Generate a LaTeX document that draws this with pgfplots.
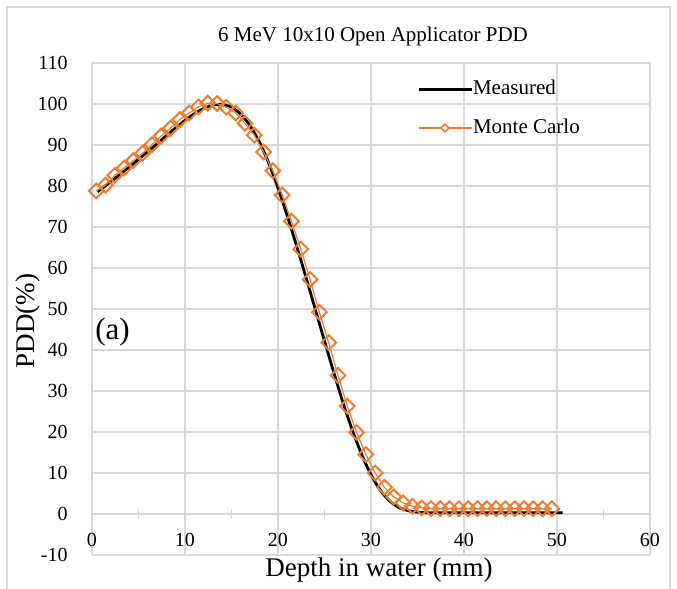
\documentclass[border=0pt]{standalone}
\usepackage{fontspec}
\setmainfont{Liberation Serif}
\usepackage{pgfplots}
\usepackage{pgfplotstable}
\pgfplotsset{compat=1.18}
\definecolor{mcorange}{HTML}{ED7D31}
\definecolor{gridgray}{HTML}{D9D9D9}

\pgfplotstableread{
x y
0.6 78.6
1 79.3
2 81.0
3 82.8
4 84.6
5 86.5
6 88.4
7 90.3
8 92.3
9 94.2
10 96.0
11 97.6
12 98.9
13 99.7
14 99.9
15 99.2
16 97.5
17 94.7
18 90.7
19 85.6
20 79.5
21 72.7
22 65.4
23 57.8
24 50.0
25 42.2
26 34.5
27 27.1
28 20.4
29 14.5
30 9.6
31 5.8
32 3.2
33 1.6
34 0.8
35 0.45
36 0.3
38 0.3
40 0.3
42 0.3
44 0.3
46 0.3
48 0.3
50 0.3
50.6 0.3
}\measured

\pgfplotstableread{
x y
0.45 78.8
1.45 80.2
2.45 82.6
3.45 84.4
4.45 86.2
5.45 88.0
6.45 90.1
7.45 92.2
8.45 94.1
9.45 96.2
10.45 97.8
11.45 99.3
12.45 100.2
13.45 100.1
14.45 99.2
15.45 97.8
16.45 95.3
17.45 92.4
18.45 88.3
19.45 83.7
20.45 77.8
21.45 71.4
22.45 64.6
23.45 57.2
24.45 49.2
25.45 41.8
26.45 33.8
27.45 26.3
28.45 19.9
29.45 14.5
30.45 10.0
31.45 6.5
32.45 4.2
33.45 2.7
34.45 1.9
35.45 1.5
36.45 1.3
37.45 1.3
38.45 1.3
39.45 1.3
40.45 1.3
41.45 1.3
42.45 1.3
43.45 1.3
44.45 1.3
45.45 1.3
46.45 1.3
47.45 1.3
48.45 1.3
49.45 1.3
}\montecarlo

\begin{document}
\begin{tikzpicture}[x=1pt,y=1pt]
\useasboundingbox (-46,-17) rectangle (292.5,277.5);
\draw[gridgray, line width=0.75pt] (-42.5,-40) rectangle (289,274);
\begin{axis}[
  at={(0,0)}, anchor=south west,
  scale only axis, width=279pt, height=246pt,
  xmin=0, xmax=60, ymin=-10, ymax=110,
  axis x line=middle, axis y line=left,
  x axis line style={-}, y axis line style={-},
  axis line style={gridgray, line width=0.75pt},
  hide obscured x ticks=false, hide obscured y ticks=false,
  xtick={0,10,...,60}, ytick={-10,0,...,110},
  minor xtick={5,15,...,55},
  major tick length=0pt, minor tick length=5pt, tick align=center,
  minor tick style={gridgray, line width=0.75pt},
  xmajorgrids, ymajorgrids,
  grid style={gridgray, line width=0.75pt},
  /pgf/number format/assume math mode=true,
  ticklabel style={font=\fontsize{10}{12}\selectfont, text=black},
  xticklabel style={yshift=-6.2pt},
  yticklabel style={xshift=-8.7pt},
  legend style={draw=none, fill=none, at={(axis cs:34.95,98.9)}, anchor=west,
    inner sep=0pt, outer sep=0pt, row sep=9.5pt,
    font=\fontsize{10.5}{12}\selectfont,
    nodes={inner sep=0pt, text height=7.5pt, text depth=2.5pt}},
  legend cell align=left,
  /tikz/every even column/.append style={column sep=2.5pt},
]
\addplot[black, line width=1.4pt, smooth,
  legend image code/.code={\draw[black, line width=1.5pt] (0pt,0pt) -- (26.5pt,0pt);}]
  table[x=x,y=y] {\measured};
\addlegendentry{Measured}
\addplot[mcorange, line width=0.6pt, mark=square, mark size=2.6pt,
  mark options={rotate=45, line width=1pt, solid},
  legend image code/.code={\draw[mcorange, line width=0.8pt] (0pt,0pt) -- (26.5pt,0pt);
    \draw[mcorange, line width=0.8pt, fill=white] (13.25pt,2pt) -- (15.25pt,0pt) -- (13.25pt,-2pt) -- (11.25pt,0pt) -- cycle;}]
  table[x=x,y=y] {\montecarlo};
\addlegendentry{Monte Carlo}
\node[anchor=base west, inner sep=0pt, font=\fontsize{15.5}{18}\selectfont] at (axis cs:0.32,42.6) {(a)};
\end{axis}
\node[anchor=base, inner sep=0pt, font=\fontsize{10.5}{12}\selectfont] at (140.5,256.5) {6 MeV 10x10 Open Applicator PDD};
\node[anchor=base, inner sep=0pt, font=\fontsize{13.5}{16}\selectfont] at (143.5,-11) {Depth in water (mm)};
\node[anchor=base, rotate=90, inner sep=0pt, font=\fontsize{13.5}{16}\selectfont] at (-28.5,117) {PDD(\%)};
\end{tikzpicture}
\end{document}
